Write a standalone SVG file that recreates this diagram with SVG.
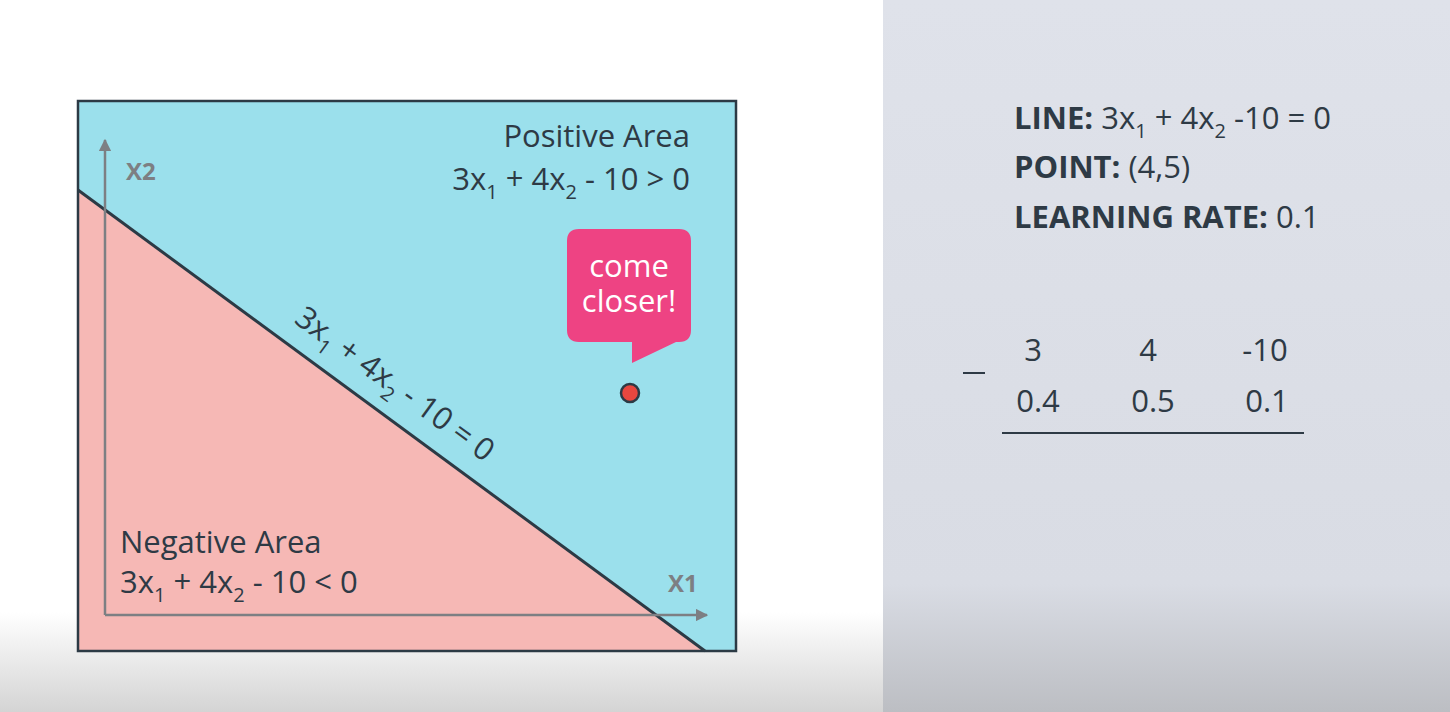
<svg xmlns="http://www.w3.org/2000/svg" width="1450" height="712" viewBox="0 0 1450 712">
<defs>
<linearGradient id="bgL" x1="0" y1="0" x2="0" y2="1">
<stop offset="0" stop-color="#ffffff"/>
<stop offset="0.86" stop-color="#ffffff"/>
<stop offset="1" stop-color="#d4d4d4"/>
</linearGradient>
<linearGradient id="bgR" x1="0" y1="0" x2="0" y2="1">
<stop offset="0" stop-color="#dfe2ea"/>
<stop offset="0.82" stop-color="#d9dce4"/>
<stop offset="1" stop-color="#bcbec3"/>
</linearGradient>
<marker id="arr" viewBox="0 0 10 10" refX="9" refY="5" markerWidth="5" markerHeight="5" orient="auto" markerUnits="strokeWidth">
<path d="M0,0 L10,5 L0,10 z" fill="#7d7f83"/>
</marker>
<clipPath id="box"><rect x="78" y="101" width="658" height="550"/></clipPath>
</defs>
<style>
text{font-family:"Open Sans","Noto Sans","Liberation Sans",sans-serif;fill:#2e3a45}
.big{font-size:31px}
.ax{font-size:24px;font-weight:bold;fill:#7d7f83}
.r{font-size:31px}
.b{font-weight:bold}
.wh{fill:#ffffff;font-size:31px}
.sub{font-size:20px}
</style>
<rect x="0" y="0" width="883" height="712" fill="url(#bgL)"/>
<rect x="883" y="0" width="567" height="712" fill="url(#bgR)"/>

<g id="plot">
<g clip-path="url(#box)">
<rect x="78" y="101" width="658" height="550" fill="#9be0ec"/>
<polygon points="78,190 705,651 78,651" fill="#f6b8b5"/>
</g>
<rect x="78" y="101" width="658" height="550" fill="none" stroke="#2c3a45" stroke-width="2.5"/>
</g>

<g id="connectors">
<line x1="78" y1="190" x2="705" y2="651" stroke="#2c3a45" stroke-width="3"/>
<line x1="105" y1="615" x2="105" y2="140" stroke="#7d7f83" stroke-width="2.5" marker-end="url(#arr)"/>
<line x1="105" y1="615" x2="707" y2="615" stroke="#7d7f83" stroke-width="2.5" marker-end="url(#arr)"/>
</g>

<g id="axis-labels">
<text class="ax" x="126" y="180">X2</text>
<text class="ax" x="668" y="592">X1</text>
</g>

<g id="positive-area">
<text class="big" x="690" y="147" text-anchor="end">Positive Area</text>
<text class="big" x="690" y="190" text-anchor="end">3x<tspan class="sub" dy="9">1</tspan><tspan dy="-9"> + 4x</tspan><tspan class="sub" dy="9">2</tspan><tspan dy="-9"> - 10 &gt; 0</tspan></text>
</g>

<g id="negative-area">
<text class="big" x="120" y="553">Negative Area</text>
<text class="big" x="120" y="593">3x<tspan class="sub" dy="9">1</tspan><tspan dy="-9"> + 4x</tspan><tspan class="sub" dy="9">2</tspan><tspan dy="-9"> - 10 &lt; 0</tspan></text>
</g>

<g id="line-label">
<text class="big" transform="translate(293,322) rotate(36.3)">3x<tspan class="sub" dy="9">1</tspan><tspan dy="-9"> + 4x</tspan><tspan class="sub" dy="9">2</tspan><tspan dy="-9"> - 10 = 0</tspan></text>
</g>

<g id="bubble">
<path d="M579,229 H679 Q691,229 691,241 V330 Q691,342 679,342 H676 L632,363 V342 H579 Q567,342 567,330 V241 Q567,229 579,229 Z" fill="#ee4383"/>
<text class="wh" x="629" y="277" text-anchor="middle">come</text>
<text class="wh" x="629" y="312" text-anchor="middle">closer!</text>
</g>

<g id="point">
<circle cx="630" cy="393" r="9" fill="#e8473f" stroke="#2c3a45" stroke-width="2.5"/>
</g>

<g id="info">
<text class="r" x="1014" y="129"><tspan class="b">LINE:</tspan> 3x<tspan class="sub" dy="9">1</tspan><tspan dy="-9"> + 4x</tspan><tspan class="sub" dy="9">2</tspan><tspan dy="-9"> -10 = 0</tspan></text>
<text class="r" x="1014" y="178"><tspan class="b">POINT:</tspan> (4,5)</text>
<text class="r" x="1014" y="228"><tspan class="b">LEARNING RATE:</tspan> 0.1</text>
</g>

<g id="subtraction">
<text class="r" x="1033" y="361" text-anchor="middle">3</text>
<text class="r" x="1148" y="361" text-anchor="middle">4</text>
<text class="r" x="1265" y="361" text-anchor="middle">-10</text>
<text class="r" x="1038" y="412" text-anchor="middle">0.4</text>
<text class="r" x="1153" y="412" text-anchor="middle">0.5</text>
<text class="r" x="1267" y="412" text-anchor="middle">0.1</text>
<line x1="963" y1="373" x2="985" y2="373" stroke="#2e3a45" stroke-width="2"/>
<line x1="1002" y1="433" x2="1304" y2="433" stroke="#2e3a45" stroke-width="2"/>
</g>
</svg>
